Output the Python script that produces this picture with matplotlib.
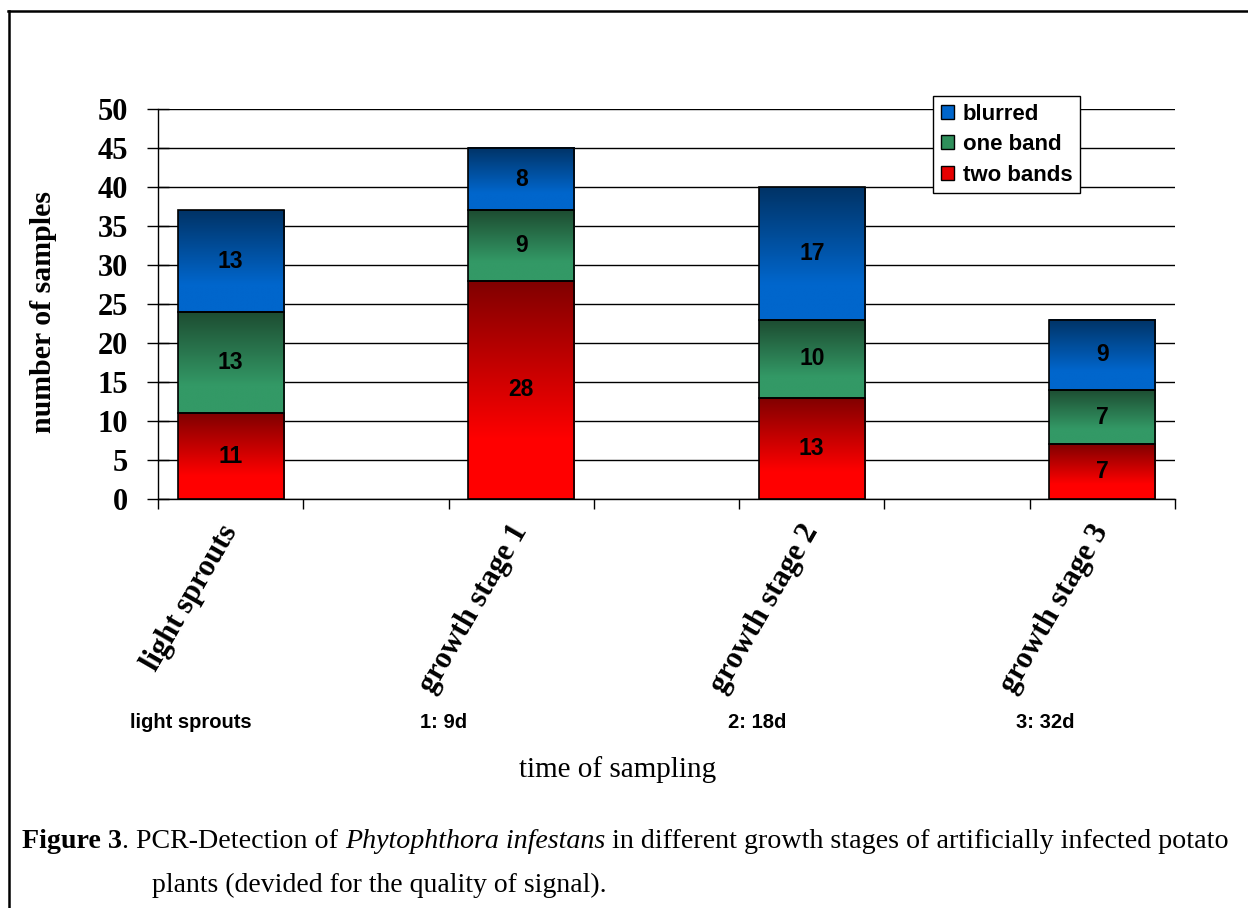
import numpy as np
import matplotlib
matplotlib.use('Agg')
import matplotlib.pyplot as plt
import matplotlib.transforms as mtransforms
from matplotlib.text import Annotation
from matplotlib.patches import Patch
from matplotlib.lines import Line2D
from matplotlib.colors import to_rgb

# data
stages = ['light sprouts', 'growth stage 1', 'growth stage 2', 'growth stage 3']
days = ['light sprouts', '1: 9d', '2: 18d', '3: 32d']
slots = [0, 2, 4, 6]          # excel chart had empty categories between the bars
two_bands = [11, 28, 13, 7]
one_band = [13, 9, 10, 7]
blurred = [13, 8, 17, 9]
series_names = ['two bands', 'one band', 'blurred']
y_ticks = [0, 5, 10, 15, 20, 25, 30, 35, 40, 45, 50]

SERIF = 'Liberation Serif'
SANS = 'Liberation Sans'

# gradient colours (top, bottom) for each series
shades = [('#800000', '#ff0000'), ('#1d4c31', '#339966'), ('#003366', '#0066cc')]
legend_cols = ['#0066cc', '#2f8f5b', '#e60000']


def shade(top, bottom, n=200):
    t = np.clip(np.linspace(0, 1, n) / 0.73, 0, 1)
    top = np.array(to_rgb(top))
    bottom = np.array(to_rgb(bottom))
    return (top[None, :] * (1 - t[:, None]) + bottom[None, :] * t[:, None])[:, None, :]


fig = plt.figure(figsize=(12.48, 9.08), dpi=100)
ax = fig.add_axes([158 / 1248, 1 - 499 / 908, 1017 / 1248, 390 / 908])

base = np.zeros(len(slots))
for vals, (c_top, c_bot), name in zip([two_bands, one_band, blurred], shades, series_names):
    bars = ax.bar(slots, vals, width=0.73, bottom=base, facecolor='none',
                  edgecolor='black', linewidth=1.2, zorder=3)
    img = shade(c_top, c_bot)
    for rect, v in zip(bars, vals):
        x0, y0 = rect.get_x(), rect.get_y()
        w, h = rect.get_width(), rect.get_height()
        ax.imshow(img, extent=[x0, x0 + w, y0, y0 + h], aspect='auto',
                  origin='upper', zorder=2, interpolation='bilinear')
        ax.text(x0 + w / 2, y0 + h / 2, str(v), ha='center', va='center',
                family=SANS, weight='bold', fontsize=16.5, zorder=4)
    base += np.array(vals)

ax.set_xlim(-0.5, 6.5)
ax.set_ylim(0, 50)
ax.set_aspect('auto')

# grid + spines
ax.yaxis.grid(True, color='black', linewidth=1)
ax.set_axisbelow(True)
for s in ['top', 'right']:
    ax.spines[s].set_visible(False)
for s in ['left', 'bottom']:
    ax.spines[s].set_linewidth(1)

# y axis
ax.set_yticks(y_ticks)
ax.tick_params(axis='y', direction='inout', length=16, width=1, pad=13.6, labelsize=22)
for lab in ax.get_yticklabels():
    lab.set_family(SERIF)
    lab.set_weight('bold')
ax.set_ylabel('number of samples', family=SERIF, weight='bold', fontsize=21.5)
ax.yaxis.set_label_coords(-0.0993, 0.48)

# x axis: tick marks between slots, labels at bar centres
ax.set_xticks(np.arange(-0.5, 7, 1))
ax.set_xticklabels([])
ax.tick_params(axis='x', which='major', direction='out', length=7, width=1)
ax.set_xticks(slots, minor=True)
ax.set_xticklabels(stages, minor=True, rotation=60, ha='right', va='center',
                   rotation_mode='anchor', family=SERIF, weight='bold', fontsize=22)
ax.tick_params(axis='x', which='minor', length=0, pad=20)

# legend
handles = [Patch(facecolor=c, edgecolor='black', label=n)
           for c, n in zip(legend_cols, series_names[::-1])]
leg = ax.legend(handles=handles, loc='upper left', bbox_to_anchor=(0.762, 1.033),
                prop=dict(family=SANS, weight='bold', size=16), fancybox=False,
                edgecolor='black', framealpha=1, handlelength=0.6, handleheight=0.6,
                handletextpad=0.4, labelspacing=0.42, borderpad=0.35, borderaxespad=0)
leg.get_frame().set_linewidth(1)

# second row of category labels
for txt, xp in zip(days, [191, 444, 757, 1045]):
    fig.text(xp / 1248, 1 - 722 / 908, txt, ha='center', va='center',
             family=SANS, weight='bold', fontsize=14.5)

fig.text(618 / 1248, 1 - 770 / 908, 'time of sampling', ha='center', va='center',
         family=SERIF, fontsize=21)

# caption, pieces chained one after another
pieces = [('. PCR-Detection of ', 'normal', 'normal'),
          ('Phytophthora infestans', 'normal', 'italic'),
          (' in different growth stages of artificially infected potato', 'normal', 'normal')]
anchor = fig.text(22 / 1248, 1 - 854 / 908, 'Figure 3', weight='bold', va='bottom',
                  family=SERIF, fontsize=20.2)
for txt, wt, st in pieces:
    anchor = fig.add_artist(Annotation(txt, xy=(1, 0), xycoords=anchor, va='bottom',
                                       ha='left', weight=wt, style=st, family=SERIF,
                                       fontsize=20.2))

fig.text(152 / 1248, 1 - 885 / 908, 'plants (devided for the quality of signal).',
         va='center', family=SERIF, fontsize=20)

# frame lines of the original figure box
fig.add_artist(Line2D([8.5 / 1248, 8.5 / 1248], [1 - 11 / 908, 0], transform=fig.transFigure,
                      color='black', linewidth=1.8))
fig.add_artist(Line2D([8 / 1248, 1], [1 - 11 / 908, 1 - 11 / 908], transform=fig.transFigure,
                      color='black', linewidth=1.8))

fig.savefig('out.png', dpi=100)
